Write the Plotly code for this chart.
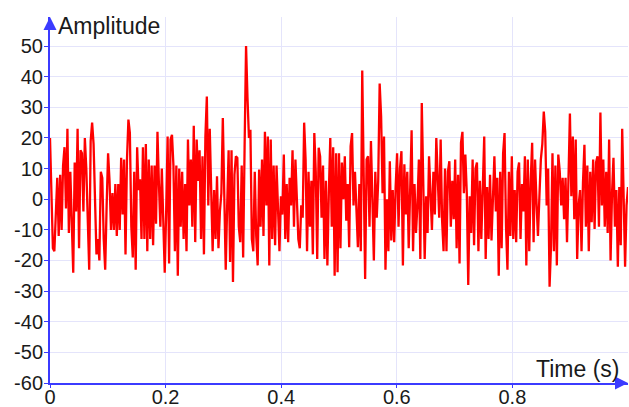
import numpy as np
import plotly.graph_objects as go

# Signal samples, left to right, in six segments
seg1 = [20, -1, -16, -17, -5, 7, -12, 8, -10, 11, 17, -3, 23, -11, 9, -11, -24, 12, -4, 23,
        -16, 16, 15, -4, 20, 10, -12, -23, 19, 25, 18, -3, -18, -13, -20, 9, 7, -13, -23, -2,
        15, 6, -10, 2, -10, 5, -12, 5, -10, 13.5, -5, 13, -18, 13, 26, 21.6, -9, -19, 9, -23,
        17, 3, 6.5, -13, 17, -13]
seg2 = [18, -17, 13, -13, 11, -15, 11, -8, 22, 5, -9, 10, -11, -24, -4, 20.5, -21, 19.5, 21, 11,
        -17, 11, -25, 10, -9, 9, -13, 5, -17, 19.5, -2, 13, -9, 24, -14, 19.5, 6, 16, -13, 14,
        -18, 20.5, 33.5, -2, 23, 0, -17, 3, -13, 7.5, -16, -4, 2, 26.5, -6, -23, -2, 16, -20.5, 16,
        -27, 8, 14]
seg3 = [13.5, -9, -14, 11, -19, 17, 50, 33, 20, 22.7, -13, -17, 9, -12, -21.6, 9.7, -9, 13, -12, 22,
        -2, 20.5, -21.6, 19.5, -13, 11, -15, 11, -4, -17, 1, -5, 14.6, -13, 5, -14, 7, -2, 16, -9,
        13, 1, -13, -16, -2, -6, 25, 13, -17, 9, -9, 6, -18, 21.6, 9, -19.5, 16.8, 14, -6, 11,
        -19.5, 6, -21.6, 2, 20, -9, 17, -25, 15]
seg4 = [-23.8, 15, -16, 12, 0, 14, -7, 5, -15.7, 17.3, 21.6, -2, 9, -3, -15.7, 5, -17, 42, 13, -26,
        13, 14, -9, 19, 0, -20, 9, -6, 6, 37.8, 27, 2, 20.5, -23, 0, -17, 12.4, -13.5, 3, -14,
        4, 15, -9, 10, 15.7, -21.6, 11.4, -5, 9, -16, 3, 22.5, -17, 5, -11, -2, 13, -19.5, 31.4, 11,
        -19.5, 1, -11, 14, -2, -10, 9, -5, 20, 3, -6]
seg5 = [19.5, -7, -17, 10, -17, 9, 12.4, -9, 6, -6.5, 13, -16, 8, -21, 18.4, 22, 2, 14.6, 2, -28,
        1, -11, 13, -15, 10, 12, -17, 6, -13, 2, 20.5, -19.5, 4, -13, 8, -13.5, 0, 14, -4, 7,
        -25, 9, -16, 15, 21.6, -9, -23, 9, -12, 14, -13, 3, -14, 9, 12, -13, 5, -4, 14, -21.6,
        13, -17, 6, 18.4, -14, 13]
seg6 = [-1, -12, 1, 13, 18, 28.6, 22, -2, 10, -28.6, -15, 15, -17, 11, -21.6, 14.6, 9, -2, 7, -6.5,
        7, -14, 6.5, 28, 1, 20.5, -6.5, 19.5, -19.5, -2, 3, -17, 5.5, 17.8, -9, 11, -17, 9, -7.5, 13,
        -9.7, 12, 14, -9, 28.3, -2, 13, -9, 9, -11, 19.5, -20, 2, 13.5, -9, 3, -22, 4, -15, 23,
        1, -22, -2, 4]

amplitude = seg1 + seg2 + seg3 + seg4 + seg5 + seg6
duration = 1.0  # seconds
time = np.linspace(0, duration, len(amplitude))

x_ticks = [0, 0.2, 0.4, 0.6, 0.8]
x_tick_labels = ["0", "0.2", "0.4", "0.6", "0.8"]
y_ticks = [-60, -50, -40, -30, -20, -10, 0, 10, 20, 30, 40, 50]
y_tick_labels = [str(v) for v in y_ticks]

AXIS = "#3b3bff"
GRID = "#e4e4fb"
FONT = "Liberation Sans"
TXT = "#1a1a1a"

fig = go.Figure()
fig.add_trace(go.Scatter(x=time, y=amplitude, mode="lines",
                         line=dict(color="#ff0000", width=2.3), hoverinfo="skip"))

fig.update_layout(
    width=629, height=407,
    margin=dict(l=50, r=1, t=17, b=24),
    paper_bgcolor="white", plot_bgcolor="white",
    showlegend=False,
    font=dict(family=FONT, size=18, color=TXT),
    xaxis=dict(range=[0, duration], tickvals=x_ticks, ticktext=x_tick_labels,
               showgrid=True, gridcolor=GRID, gridwidth=1,
               showline=True, linecolor=AXIS, linewidth=2,
               ticks="outside", ticklen=3, tickcolor=AXIS, tickwidth=1,
               ticklabelstandoff=-8,
               zeroline=False, automargin=False,
               tickfont=dict(family=FONT, size=20, color=TXT)),
    yaxis=dict(range=[-60, 59.5], tickvals=y_ticks, ticktext=y_tick_labels,
               showgrid=True, gridcolor=GRID, gridwidth=1,
               showline=True, linecolor=AXIS, linewidth=2,
               ticks="outside", ticklen=4, tickcolor=AXIS, tickwidth=1,
               ticklabelstandoff=-3,
               zeroline=False, automargin=False,
               tickfont=dict(family=FONT, size=20, color=TXT)),
    annotations=[
        dict(xref="paper", yref="paper", x=0, y=1.0, ax=0, ay=12,
             showarrow=True, arrowhead=2, arrowsize=1.3, arrowwidth=2, arrowcolor=AXIS, text=""),
        dict(xref="paper", yref="paper", x=1.0, y=0, ax=-12, ay=0,
             showarrow=True, arrowhead=2, arrowsize=1.3, arrowwidth=2, arrowcolor=AXIS, text=""),
        dict(xref="paper", yref="paper", x=0.011, y=1.0, xanchor="left", yanchor="middle",
             yshift=-9, showarrow=False, text="Amplitude",
             font=dict(family=FONT, size=23, color=TXT)),
        dict(xref="paper", yref="paper", x=0.988, y=0, xanchor="right", yanchor="bottom",
             yshift=-1, showarrow=False, text="Time (s)",
             font=dict(family=FONT, size=23, color=TXT)),
    ],
)

fig.write_html(
    "out.html",
    config={"displayModeBar": False},
    post_script="document.body.style.margin='0';document.body.style.overflow='hidden';",
)
